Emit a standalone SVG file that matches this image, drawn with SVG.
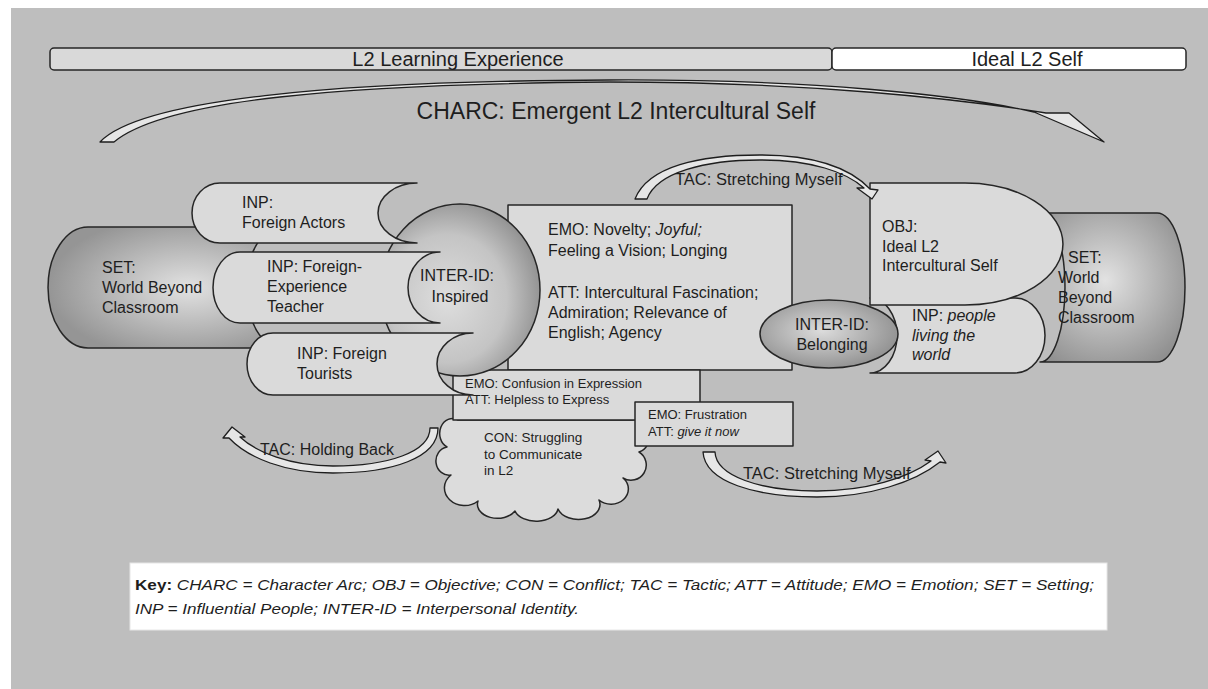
<svg xmlns="http://www.w3.org/2000/svg" width="1208" height="689" viewBox="0 0 1208 689">
<defs>
<style>
text{font-family:"Liberation Sans",Arial,Helvetica,sans-serif;fill:#1e1e1e}
.f16{font-size:16px}
.f13{font-size:13px}
.sh{stroke:#262626;stroke-width:1.5;stroke-linejoin:round}
.lt{fill:#dadada}
.ar{fill:#e6e6e6;stroke:#1e1e1e;stroke-width:1.3;stroke-linejoin:round}
.it{font-style:italic}
.mid{text-anchor:middle}
</style>
<radialGradient id="gSetL" cx="0.6" cy="0.5" r="0.6">
<stop offset="0" stop-color="#e2e2e2"/><stop offset="1" stop-color="#959595"/>
</radialGradient>
<radialGradient id="gSetR" cx="0.45" cy="0.45" r="0.65">
<stop offset="0" stop-color="#e2e2e2"/><stop offset="1" stop-color="#909090"/>
</radialGradient>
<radialGradient id="gCirc" cx="0.42" cy="0.55" r="0.62">
<stop offset="0" stop-color="#dedede"/><stop offset="0.6" stop-color="#c4c4c4"/><stop offset="1" stop-color="#8c8c8c"/>
</radialGradient>
<radialGradient id="gEll" cx="0.45" cy="0.45" r="0.6">
<stop offset="0" stop-color="#dcdcdc"/><stop offset="1" stop-color="#8e8e8e"/>
</radialGradient>
</defs>

<rect width="1208" height="689" fill="#ffffff"/>
<rect x="11" y="8" width="1197" height="681" fill="#bebebe"/>

<g id="bar-l2">
<rect x="50" y="48" width="782" height="22" rx="4" fill="#d9d9d9" class="sh"/>
<text x="458" y="66" class="mid" font-size="20">L2 Learning Experience</text>
</g>
<g id="bar-ideal">
<rect x="832" y="48" width="354" height="22" rx="4" fill="#ffffff" class="sh"/>
<text x="1027" y="66" class="mid" font-size="20">Ideal L2 Self</text>
</g>

<g id="charc-title">
<text x="616" y="119" class="mid" font-size="23">CHARC: Emergent L2 Intercultural Self</text>
</g>

<g id="set-left">
<path d="M88,227 H282 A36,60.5 0 0 0 282,348 H88 A40,60.5 0 0 1 88,227 Z" fill="url(#gSetL)" class="sh"/>
<text x="102" y="273" class="f16">SET:</text>
<text x="102" y="293" class="f16">World Beyond</text>
<text x="102" y="313" class="f16">Classroom</text>
</g>

<g id="emo-att-main">
<rect x="508" y="205" width="284" height="165" class="lt sh"/>
<text x="548" y="235" class="f16">EMO: Novelty; <tspan class="it">Joyful;</tspan></text>
<text x="548" y="256" class="f16">Feeling a Vision; Longing</text>
<text x="548" y="298" class="f16">ATT: Intercultural Fascination;</text>
<text x="548" y="318" class="f16">Admiration; Relevance of</text>
<text x="548" y="338" class="f16">English; Agency</text>
</g>

<g id="con-cloud">
<path d="M458,420 A12,14 0 0 0 447,447 A12,13 0 0 0 451,475 A16,14 0 0 0 478,501 A20,14 0 0 0 515,511 A22,14 0 0 0 558,509 A20,14 0 0 0 599,500 A16,14 0 0 0 623,478 A14,14 0 0 0 639,452 A12,14 0 0 0 632,420 Z" fill="#dcdcdc" class="sh"/>
<text x="484" y="442" font-size="13.5">CON: Struggling</text>
<text x="484" y="459" font-size="13.5">to Communicate</text>
<text x="484" y="475" font-size="13.5">in L2</text>
</g>

<g id="emo-att-confusion">
<rect x="453" y="370" width="247" height="50" class="lt sh"/>
<text x="465" y="388" class="f13">EMO: Confusion in Expression</text>
<text x="465" y="404" class="f13">ATT: Helpless to Express</text>
</g>

<g id="inter-id-inspired">
<ellipse cx="460" cy="290" rx="80" ry="86" fill="url(#gCirc)" class="sh"/>
<text x="457" y="281" class="f16 mid">INTER-ID:</text>
<text x="460" y="302" class="f16 mid">Inspired</text>
</g>

<g id="inp-actors">
<path d="M220,183 H417 A39,30 0 0 0 417,243 H220 A28,30 0 0 1 220,183 Z" class="lt sh"/>
<text x="242" y="208" class="f16">INP:</text>
<text x="242" y="228" class="f16">Foreign Actors</text>
</g>

<g id="inp-teacher">
<path d="M240,252 H440 A32,35.5 0 0 0 440,323 H240 A27,35.5 0 0 1 240,252 Z" class="lt sh"/>
<text x="267" y="272" class="f16">INP: Foreign-</text>
<text x="267" y="292" class="f16">Experience</text>
<text x="267" y="312" class="f16">Teacher</text>
</g>

<g id="inp-tourists">
<path d="M273,333 H473 A36,31 0 0 0 473,395 H273 A26,31 0 0 1 273,333 Z" class="lt sh"/>
<text x="297" y="359" class="f16">INP: Foreign</text>
<text x="297" y="379" class="f16">Tourists</text>
</g>

<g id="emo-att-frustration">
<rect x="635" y="402" width="158" height="44" class="lt sh"/>
<text x="648" y="419" class="f13">EMO: Frustration</text>
<text x="648" y="436" class="f13">ATT: <tspan class="it">give it now</tspan></text>
</g>

<g id="set-right">
<path d="M1040,213 H1157 A28,74.5 0 0 1 1157,362 H1040 A25,74.5 0 0 0 1040,213 Z" fill="url(#gSetR)" class="sh"/>
<text x="1068" y="263" class="f16">SET:</text>
<text x="1058" y="283" class="f16">World</text>
<text x="1058" y="303" class="f16">Beyond</text>
<text x="1058" y="323" class="f16">Classroom</text>
</g>

<g id="inp-people">
<path d="M870,298 H1015 A30,37.5 0 0 1 1015,373 H870 A27,37.5 0 0 0 870,298 Z" class="lt sh"/>
<text x="912" y="321" class="f16">INP: <tspan class="it">people</tspan></text>
<text x="912" y="341" class="f16 it">living the</text>
<text x="912" y="360" class="f16 it">world</text>
</g>

<g id="obj">
<path d="M870,183 H965 A98,61 0 0 1 965,305 H870 Z" class="lt sh"/>
<text x="882" y="232" class="f16">OBJ:</text>
<text x="882" y="252" class="f16">Ideal L2</text>
<text x="882" y="271" class="f16">Intercultural Self</text>
</g>

<g id="inter-id-belonging">
<ellipse cx="829" cy="334" rx="69" ry="34" fill="url(#gEll)" class="sh"/>
<text x="832" y="330" class="f16 mid">INTER-ID:</text>
<text x="832" y="350" class="f16 mid">Belonging</text>
</g>

<g id="connectors">
<path id="charc-arrow" class="ar" d="M100,142 C140,100 330,81 610,80 C810,79 960,95 1034,112 L1104,142 L1069,113 L1046,113 C960,99 810,82 610,82 C340,84 165,100 114,142 Z"/>
<path id="tac-top" class="ar" d="M635,199 C648,166 700,155 760,155 C815,155 850,168 870,189 L878,190 L872,199 L857,188 L864,188 C846,172 812,160 760,160 C706,160 657,172 647,199 Z"/>
<path id="tac-hold" class="ar" d="M430,428 L438,428 C438,458 392,473 333,473 C285,473 248,458 229,438 L223,438 L232,427 L245,437 L240,437 C256,452 290,466 333,466 C388,466 430,452 430,428 Z"/>
<path id="tac-stretch" class="ar" d="M703,452 C705,482 755,497 817,497 C870,497 915,482 940,462 L946,463 L938,451 L925,460 L931,461 C908,478 866,491 817,491 C760,491 716,476 715,452 Z"/>
<text x="675" y="185" font-size="16.5">TAC: Stretching Myself</text>
<text x="260" y="455" class="f16">TAC: Holding Back</text>
<text x="743" y="479" font-size="16.5">TAC: Stretching Myself</text>
</g>

<g id="key">
<rect x="130" y="563" width="977" height="67" fill="#ffffff" stroke="#e6e6e6"/>
<text x="135" y="590" font-size="15" textLength="959" lengthAdjust="spacingAndGlyphs"><tspan font-weight="bold">Key:</tspan><tspan class="it"> CHARC = Character Arc; OBJ = Objective; CON = Conflict; TAC = Tactic; ATT = Attitude; EMO = Emotion; SET = Setting;</tspan></text>
<text x="135" y="614" font-size="15" class="it" textLength="444" lengthAdjust="spacingAndGlyphs">INP = Influential People; INTER-ID = Interpersonal Identity.</text>
</g>
</svg>
